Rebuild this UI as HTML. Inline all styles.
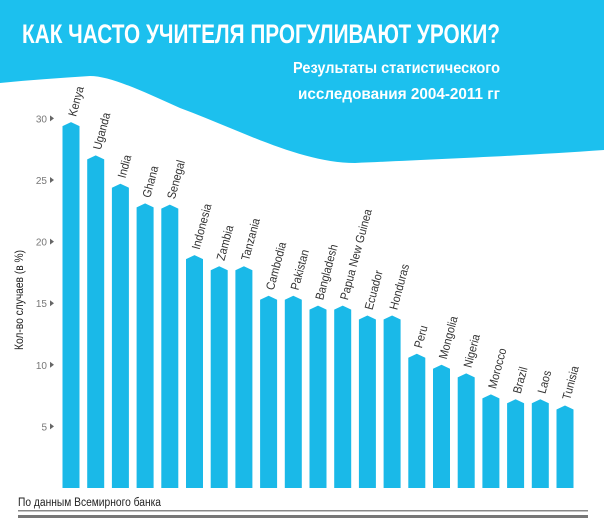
<!DOCTYPE html>
<html><head><meta charset="utf-8"><style>
body{margin:0;width:604px;height:522px;overflow:hidden;background:#fff;font-family:"Liberation Sans",sans-serif}
svg{display:block}
</style></head><body>
<svg width="604" height="522">
<path d="M0,0 H604 V150 C520,156 420,160 355,163 C300,163 240,130 180,108 C140,90 110,76 90,76 C60,78 30,80 0,83 Z" fill="#1cc0ee"/>
<text x="22" y="43" font-size="27" font-weight="bold" fill="#fff" textLength="478" lengthAdjust="spacingAndGlyphs">КАК ЧАСТО УЧИТЕЛЯ ПРОГУЛИВАЮТ УРОКИ?</text>
<text x="293" y="73" font-size="16" font-weight="bold" fill="#fff" textLength="207" lengthAdjust="spacingAndGlyphs">Результаты статистического</text>
<text x="298" y="99" font-size="16" font-weight="bold" fill="#fff" textLength="202" lengthAdjust="spacingAndGlyphs">исследования 2004-2011 гг</text>
<g id="axis"></g>
<g id="bars"></g>
<text transform="translate(23,300) rotate(-90)" text-anchor="middle" font-size="12" fill="#222" textLength="100" lengthAdjust="spacingAndGlyphs">Кол-во случаев (в %)</text>
<text x="18" y="506" font-size="11.5" fill="#222" textLength="143" lengthAdjust="spacingAndGlyphs">По данным Всемирного банка</text>
<rect x="18" y="510" width="570" height="1.5" fill="#888"/>
<rect x="18" y="515" width="570" height="3" fill="#777"/>
</svg>
<script>
const categories=["Kenya","Uganda","India","Ghana","Senegal","Indonesia","Zambia","Tanzania","Cambodia","Pakistan","Bangladesh","Papua New Guinea","Ecuador","Honduras","Peru","Mongolia","Nigeria","Morocco","Brazil","Laos","Tunisia"];
const values=[29.7,27,24.7,23.1,23,18.9,18,18,15.6,15.6,14.8,14.8,14,14,10.9,10,9.3,7.6,7.2,7.2,6.7];
const ticks=[5,10,15,20,25,30];
const NS="http://www.w3.org/2000/svg";
const y0=488, ppu=12.32, x0=71, step=24.7, bw=17;
const y=v=>y0-v*ppu, x=i=>x0+i*step;
const ax=document.getElementById('axis'), bg=document.getElementById('bars');
ticks.forEach(t=>{
  const tx=document.createElementNS(NS,'text');
  
  
  tx.setAttribute('x',47);tx.setAttribute('y',y(t)+4);tx.setAttribute('text-anchor','end');
  tx.setAttribute('font-size','10');tx.setAttribute('fill','#777');tx.textContent=t;ax.appendChild(tx);
  const m=document.createElementNS(NS,'path');
  
  
  m.setAttribute('d',`M50,${y(t)-3}L54,${y(t)}L50,${y(t)+3}Z`);m.setAttribute('fill','#666');ax.appendChild(m);
});
values.forEach((v,i)=>{
  const cx=x(i), top=y(v), l=cx-bw/2, r=cx+bw/2;
  const p=document.createElementNS(NS,'path');
  
  
  p.setAttribute('d',`M${l},${y0}V${top+4}L${cx},${top}L${r},${top+4}V${y0}Z`);
  p.setAttribute('fill','#1ab9e8');bg.appendChild(p);
  const t=document.createElementNS(NS,'text');
  
  
  t.setAttribute('transform',`translate(${cx+5},${top-5}) rotate(-75) scale(0.9,1)`);
  t.setAttribute('font-size','12');t.setAttribute('fill','#333');
  t.textContent=categories[i];bg.appendChild(t);
});
</script>
</body></html>
